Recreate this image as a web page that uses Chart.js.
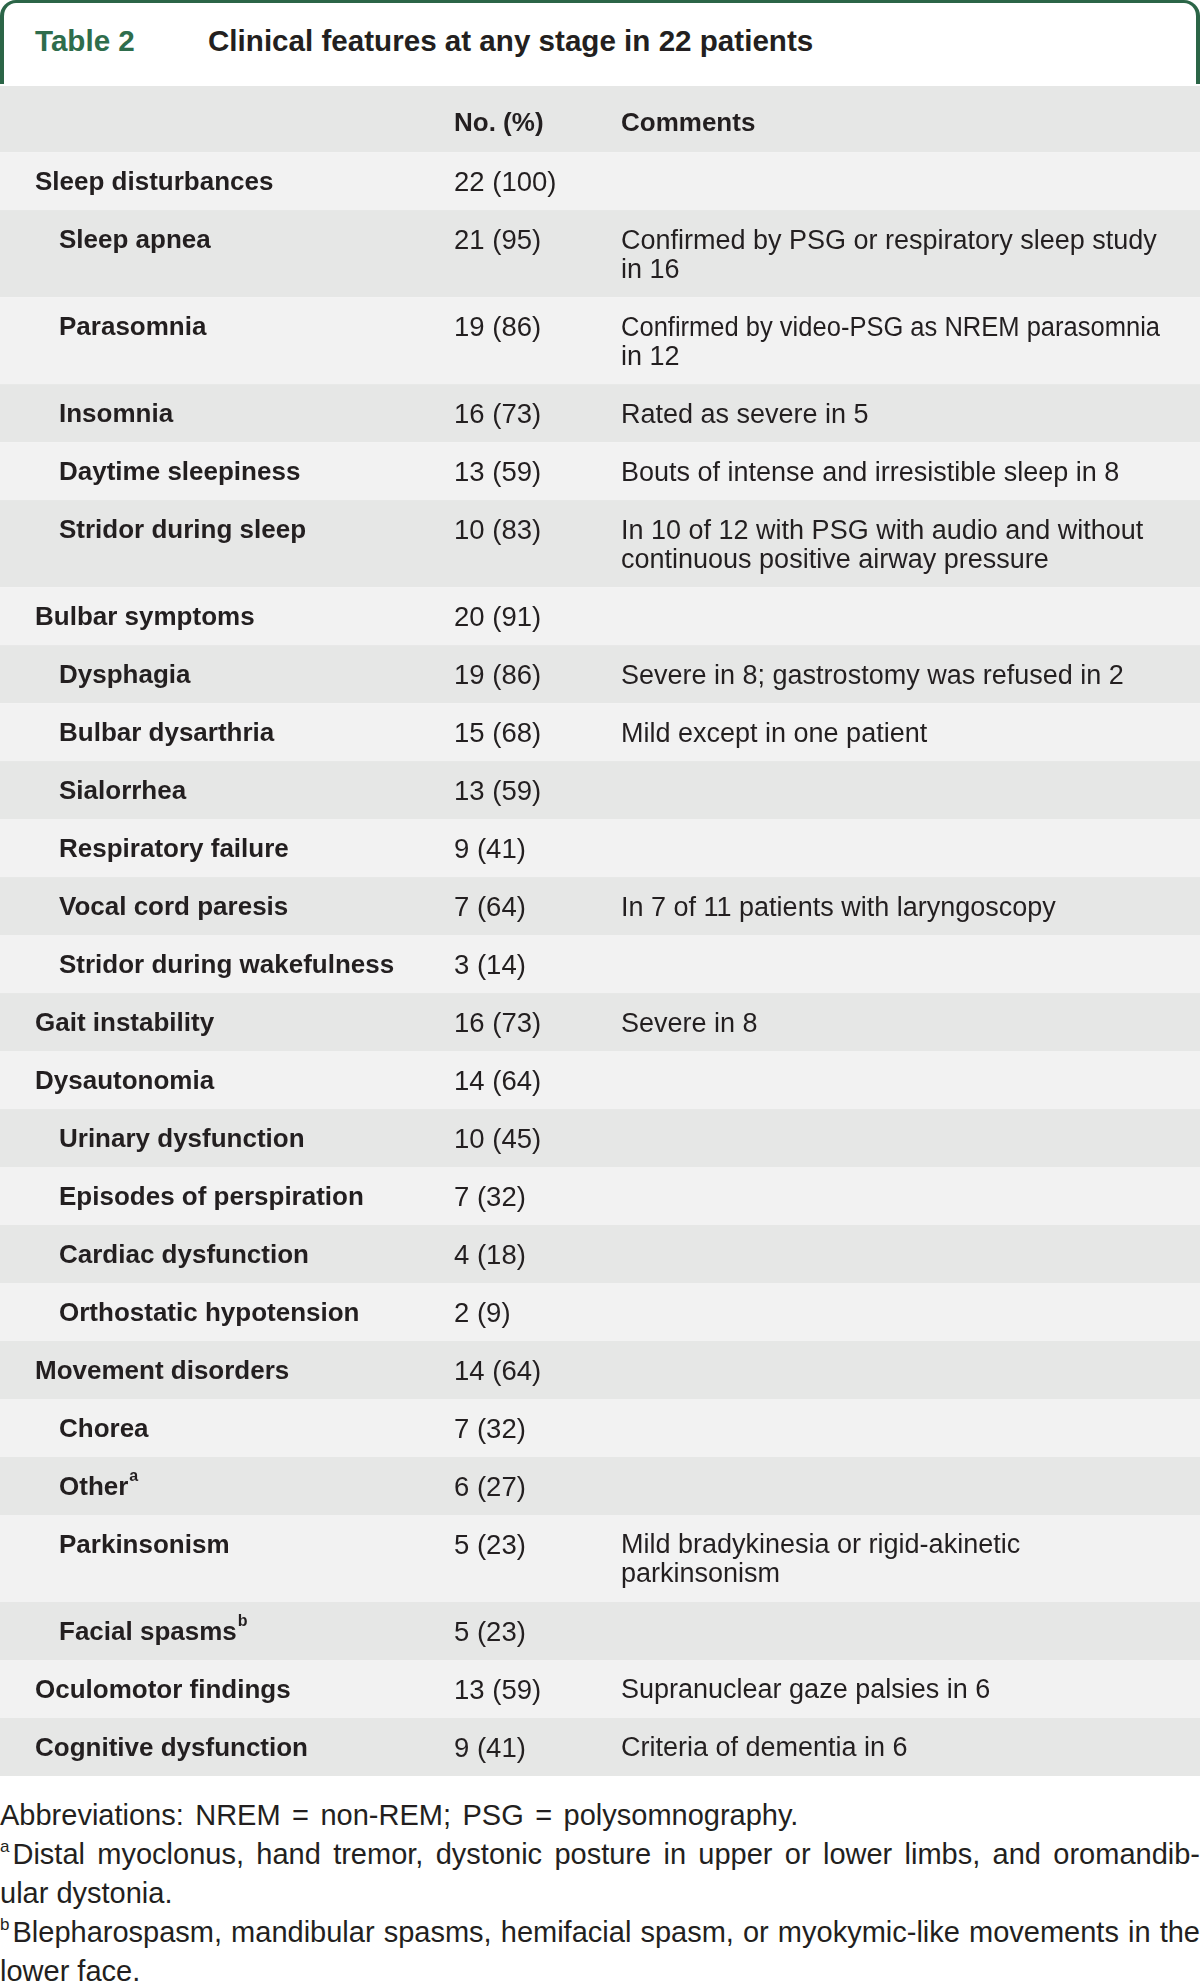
<!DOCTYPE html>
<html>
<head>
<meta charset="utf-8">
<title>Table 2</title>
<script src="https://cdn.jsdelivr.net/npm/chart.js@4.4.1/dist/chart.umd.min.js"></script>
<style>
  body { margin: 0; background: #fff; font-family: "Liberation Sans", Arial, sans-serif; color: #231f20; }
  #page { position: relative; width: 1200px; height: 1985px; overflow: hidden; }
  #head {
    position: absolute; left: 0; top: 0; width: 1200px; height: 84px; box-sizing: border-box;
    border: 4px solid #2b6547; border-top-width: 3px; border-bottom: none;
    border-radius: 16px 16px 0 0;
  }
  #head span { position: absolute; top: 23px; font-size: 29.6px; line-height: 29px; font-weight: bold; white-space: nowrap; }
  #head .num { left: 31px; color: #2e6d4c; }
  #head .ttl { left: 204px; color: #231f20; }
  #tableBox { position: absolute; left: 0; top: 86px; width: 1200px; height: 1690px; }
  #notes { position: absolute; left: 0; top: 1796px; width: 1200px; font-size: 29px; line-height: 39px; }
  #notes div { white-space: nowrap; }
  #notes div.wide { word-spacing: 3.4px; }
  #notes div.just { text-align: justify; text-align-last: justify; }
  #notes sup { font-size: 17px; line-height: 0; vertical-align: baseline; position: relative; top: -12px; margin-right: 3px; }
</style>
</head>
<body>
<div id="page">
  <div id="head"><span class="num">Table 2</span><span class="ttl">Clinical features at any stage in 22 patients</span></div>
  <div id="tableBox"><canvas id="tableChart"></canvas></div>
  <div id="notes">
    <div class="wide">Abbreviations: NREM = non-REM; PSG = polysomnography.</div>
    <div class="just"><sup>a</sup>Distal myoclonus, hand tremor, dystonic posture in upper or lower limbs, and oromandib-</div>
    <div>ular dystonia.</div>
    <div class="just"><sup>b</sup>Blepharospasm, mandibular spasms, hemifacial spasm, or myokymic-like movements in the</div>
    <div>lower face.</div>
  </div>
</div>
<script>
// column headers
const headers = ['', 'No. (%)', 'Comments'];

// clinical features (level 0 = group, level 1 = sub-item)
const features = [
  'Sleep disturbances', 'Sleep apnea', 'Parasomnia', 'Insomnia', 'Daytime sleepiness', 'Stridor during sleep',
  'Bulbar symptoms', 'Dysphagia', 'Bulbar dysarthria', 'Sialorrhea', 'Respiratory failure', 'Vocal cord paresis',
  'Stridor during wakefulness', 'Gait instability', 'Dysautonomia', 'Urinary dysfunction', 'Episodes of perspiration',
  'Cardiac dysfunction', 'Orthostatic hypotension', 'Movement disorders', 'Chorea', 'Other', 'Parkinsonism',
  'Facial spasms', 'Oculomotor findings', 'Cognitive dysfunction'
];
const levels = [0, 1, 1, 1, 1, 1, 0, 1, 1, 1, 1, 1, 1, 0, 0, 1, 1, 1, 1, 0, 1, 1, 1, 1, 0, 0];
const marks = ['', '', '', '', '', '', '', '', '', '', '', '', '', '', '', '', '', '', '', '', '', 'a', '', 'b', '', ''];

const counts = [
  '22 (100)', '21 (95)', '19 (86)', '16 (73)', '13 (59)', '10 (83)',
  '20 (91)', '19 (86)', '15 (68)', '13 (59)', '9 (41)', '7 (64)',
  '3 (14)', '16 (73)', '14 (64)', '10 (45)', '7 (32)',
  '4 (18)', '2 (9)', '14 (64)', '7 (32)', '6 (27)', '5 (23)',
  '5 (23)', '13 (59)', '9 (41)'
];

const comments = [
  [], ['Confirmed by PSG or respiratory sleep study', 'in 16'], ['Confirmed by video-PSG as NREM parasomnia', 'in 12'],
  ['Rated as severe in 5'], ['Bouts of intense and irresistible sleep in 8'],
  ['In 10 of 12 with PSG with audio and without', 'continuous positive airway pressure'],
  [], ['Severe in 8; gastrostomy was refused in 2'], ['Mild except in one patient'], [], [],
  ['In 7 of 11 patients with laryngoscopy'], [], ['Severe in 8'], [], [], [], [], [], [], [], [],
  ['Mild bradykinesia or rigid-akinetic', 'parkinsonism'], [], ['Supranuclear gaze palsies in 6'], ['Criteria of dementia in 6']
];

// layout / style
const COL_X = { group: 35, sub: 59, count: 454, comment: 621 };
const HEADER_UNITS = 1.14;
const TEXT_NUDGE = 2; // px, canvas 'middle' sits a touch above cap centre
const STRIPE_DARK = '#e6e7e6';
const STRIPE_LIGHT = '#f2f2f2';
const INK = '#231f20';
const FONT = '"Liberation Sans", Arial, sans-serif';

// row spans on the y scale: header + one per feature, two-line rows are 1.5 units tall
const rowSpans = [];
let pos = 0;
rowSpans.push({ start: pos, end: pos + HEADER_UNITS });
pos += HEADER_UNITS;
features.forEach((f, i) => {
  const h = comments[i].length > 1 ? 1.5 : 1;
  rowSpans.push({ start: pos, end: pos + h });
  pos += h;
});
const totalUnits = pos;

const tablePlugin = {
  id: 'tableRows',
  beforeDatasetsDraw(chart) {
    const { ctx, scales: { x, y } } = chart;
    ctx.save();
    rowSpans.forEach((r, i) => {
      const top = y.getPixelForValue(r.start);
      const bottom = y.getPixelForValue(r.end);
      ctx.fillStyle = i % 2 === 0 ? STRIPE_DARK : STRIPE_LIGHT;
      ctx.fillRect(x.left, top, x.right - x.left, bottom - top);
    });

    ctx.fillStyle = INK;
    ctx.textBaseline = 'middle';
    ctx.textAlign = 'left';

    // header row
    const hy = y.getPixelForValue(rowSpans[0].start + 0.61) + TEXT_NUDGE;
    ctx.font = 'bold 26px ' + FONT;
    ctx.fillText(headers[1], x.getPixelForValue(COL_X.count), hy);
    ctx.fillText(headers[2], x.getPixelForValue(COL_X.comment), hy);

    features.forEach((f, i) => {
      const r = rowSpans[i + 1];
      const ly = y.getPixelForValue(r.start + 0.5) + TEXT_NUDGE;
      const lx = x.getPixelForValue(levels[i] ? COL_X.sub : COL_X.group);
      ctx.font = 'bold 26px ' + FONT;
      ctx.fillText(f, lx, ly);
      if (marks[i]) {
        const w = ctx.measureText(f).width;
        ctx.font = 'bold 16px ' + FONT;
        ctx.fillText(marks[i], lx + w + 1, ly - 11);
      }
      ctx.font = '27.5px ' + FONT;
      ctx.fillText(counts[i], x.getPixelForValue(COL_X.count), ly);
      ctx.font = '27px ' + FONT;
      comments[i].forEach((line, k) => {
        const cy = y.getPixelForValue(r.start + 0.5 + k * 0.5) + TEXT_NUDGE;
        ctx.fillText(line, x.getPixelForValue(COL_X.comment), cy, 1200 - 621 - 40);
      });
    });
    ctx.restore();
  }
};

new Chart(document.getElementById('tableChart'), {
  type: 'scatter',
  data: {
    datasets: [{
      label: 'rows',
      data: rowSpans.map(r => ({ x: 0, y: (r.start + r.end) / 2 })),
      pointRadius: 0,
      pointHoverRadius: 0
    }]
  },
  options: {
    responsive: true,
    maintainAspectRatio: false,
    animation: false,
    layout: { padding: 0 },
    events: [],
    plugins: { legend: { display: false }, tooltip: { enabled: false } },
    scales: {
      x: { type: 'linear', min: 0, max: 1200, display: false },
      y: { type: 'linear', min: 0, max: totalUnits, reverse: true, display: false }
    }
  },
  plugins: [tablePlugin]
});
</script>
</body>
</html>
